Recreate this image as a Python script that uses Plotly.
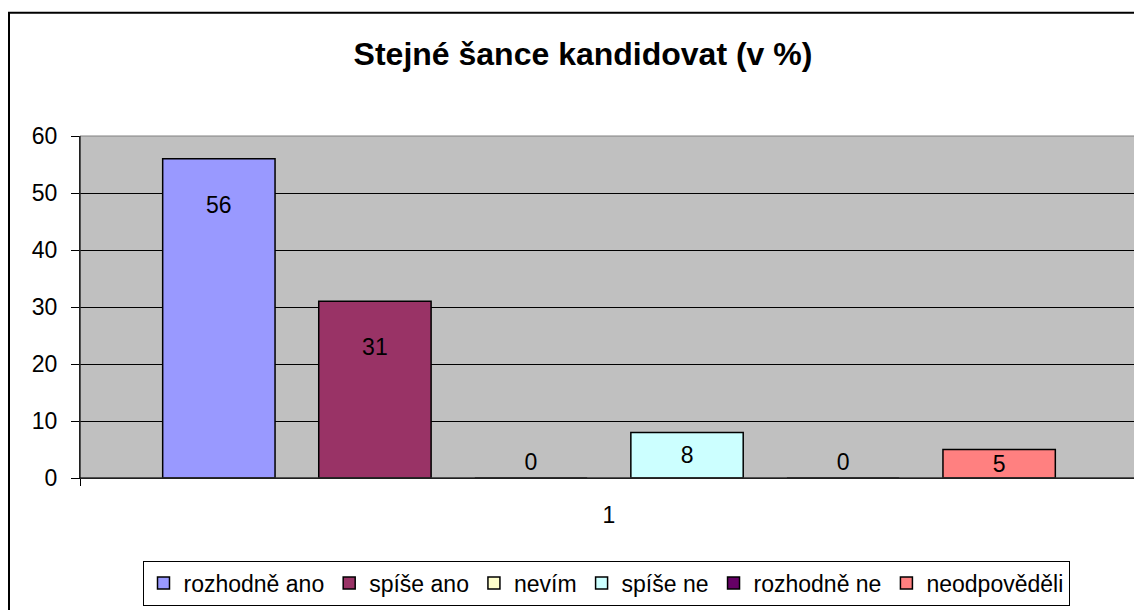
import plotly.graph_objects as go

categories = ["1"]
series_names = ["rozhodně ano", "spíše ano", "nevím", "spíše ne", "rozhodně ne", "neodpověděli"]
series_values = [56, 31, 0, 8, 0, 5]
series_colors = ["#9999FF", "#993366", "#FFFFCC", "#CCFFFF", "#660066", "#FF8080"]
y_ticks = [0, 10, 20, 30, 40, 50, 60]
title_text = "Stejné šance kandidovat (v %)"

FONT = "Arial, Liberation Sans, sans-serif"

# page body has an 8px margin, so the figure is sized/offset accordingly
OFF = 8
W, H = 1142 - OFF, 610 - OFF
L, R, T, B = 72, 4, 128, 130
pw, ph = W - L - R, H - T - B

fig = go.Figure()
for name, v, c in zip(series_names, series_values, series_colors):
    if v == 0:
        pos, txt, anchor = "outside", f"{v}", "end"
    elif v >= 20:
        pos, txt, anchor = "inside", f"\u00a0<br>{v}", "end"
    else:
        pos, txt, anchor = "inside", f"{v}", "middle"
    fig.add_trace(go.Bar(
        x=categories, y=[v], name=name,
        marker=dict(color=c, line=dict(color="#000000", width=1.5)),
        text=[txt], textposition=pos, insidetextanchor=anchor, textangle=0,
        constraintext="none", cliponaxis=False,
        textfont=dict(family=FONT, size=23, color="#000000"),
        hoverinfo="skip",
    ))

def px2paper_x(px):
    return (px - OFF - L) / pw

def px2paper_y(py):
    return (H - B - (py - OFF)) / ph

fig.update_layout(
    width=W, height=H,
    margin=dict(l=L, r=R, t=T, b=B),
    paper_bgcolor="#FFFFFF",
    plot_bgcolor="#C0C0C0",
    barmode="group",
    bargap=0.115,
    bargroupgap=0.28,
    font=dict(family=FONT, size=23, color="#000000"),
    title=dict(text=f"<b>{title_text}</b>", x=(583 - OFF) / W, xref="container", xanchor="center",
               y=1 - (54 - OFF) / H, yref="container", yanchor="middle",
               font=dict(family=FONT, size=32, color="#000000")),
    showlegend=True,
    legend=dict(orientation="h", x=px2paper_x(606), xanchor="center",
                y=px2paper_y(563), yanchor="top",
                bgcolor="#FFFFFF", bordercolor="#000000", borderwidth=1,
                font=dict(family=FONT, size=23, color="#000000"),
                itemwidth=30, traceorder="normal"),
    xaxis=dict(type="category", showgrid=False, showline=True, linecolor="#000000", linewidth=1,
               ticks="outside", ticklen=7, tickcolor="#000000", tickson="boundaries",
               ticklabelstandoff=16,
               tickfont=dict(family=FONT, size=23, color="#000000"), zeroline=False),
    yaxis=dict(range=[0, 60], tickvals=y_ticks, showgrid=True, gridcolor="#000000", gridwidth=1,
               showline=True, linecolor="#000000", linewidth=1,
               ticks="outside", ticklen=8, tickcolor="#000000", ticklabelstandoff=9,
               tickfont=dict(family=FONT, size=23, color="#000000"), zeroline=False),
    shapes=[
        dict(type="rect", xref="paper", yref="paper", x0=0, x1=1, y0=0, y1=1,
             line=dict(color="#808080", width=1), layer="above"),
        dict(type="line", xref="paper", yref="paper", x0=0, x1=0, y0=0, y1=1,
             line=dict(color="#000000", width=1), layer="above"),
        dict(type="line", xref="paper", yref="paper", x0=0, x1=1, y0=0, y1=0,
             line=dict(color="#000000", width=1), layer="above"),
        dict(type="rect", xref="paper", yref="paper",
             x0=px2paper_x(OFF + 1), x1=px2paper_x(1160), y0=px2paper_y(640), y1=px2paper_y(12),
             line=dict(color="#000000", width=2), layer="below"),
    ],
)

fig.write_html("out.html")
